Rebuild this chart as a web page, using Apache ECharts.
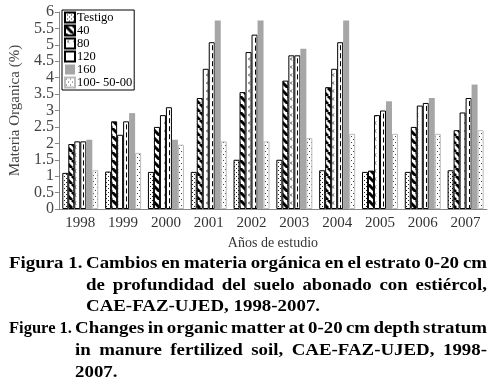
<!DOCTYPE html>
<html>
<head>
<meta charset="utf-8">
<script src="https://cdn.jsdelivr.net/npm/echarts/dist/echarts.min.js"></script>
<style>
  html, body { margin: 0; padding: 0; background: #fff; }
  #chart { width: 495px; height: 391px; }
</style>
</head>
<body>
<div id="chart"></div>
<script>
// datos
var years = ['1998', '1999', '2000', '2001', '2002', '2003', '2004', '2005', '2006', '2007'];
var testigo = [1.10, 1.14, 1.13, 1.13, 1.50, 1.50, 1.18, 1.13, 1.13, 1.18];
var d40 = [1.98, 2.67, 2.50, 3.38, 3.56, 3.91, 3.71, 1.17, 2.50, 2.40];
var d80 = [2.06, 2.26, 2.86, 4.27, 4.78, 4.68, 4.27, 2.86, 3.15, 2.94];
var d120 = [2.06, 2.67, 3.10, 5.08, 5.31, 4.68, 5.08, 3.00, 3.23, 3.38];
var d160 = [2.11, 2.92, 2.11, 5.74, 5.74, 4.88, 5.74, 3.28, 3.38, 3.79];
var d100 = [1.18, 1.71, 1.96, 2.06, 2.06, 2.16, 2.29, 2.29, 2.29, 2.40];
var legendNames = ['Testigo', '40', '80', '120', '160', '100- 50-00'];

var captionLines = [
  { lead: 'Figura 1.', text: 'Cambios en materia orgánica en el estrato 0-20 cm', justify: true },
  { lead: '', text: 'de profundidad del suelo abonado con estiércol,', justify: true },
  { lead: '', text: 'CAE-FAZ-UJED, 1998-2007.', justify: false },
  { lead: 'Figure 1.', text: 'Changes in organic matter at 0-20 cm depth stratum', justify: true },
  { lead: '', text: 'in manure fertilized soil, CAE-FAZ-UJED, 1998-', justify: true },
  { lead: '', text: '2007.', justify: false }
];

var serif = '"Liberation Serif", "Times New Roman", serif';

// tramas de relleno
function tile(w, h, draw) {
  var c = document.createElement('canvas');
  c.width = w; c.height = h;
  var g = c.getContext('2d');
  g.fillStyle = '#fff';
  g.fillRect(0, 0, w, h);
  draw(g);
  return { image: c, repeat: 'repeat' };
}
var patDots = tile(4, 4, function (g) {
  g.fillStyle = '#222';
  g.fillRect(0, 0, 1, 1);
  g.fillRect(2, 2, 1, 1);
});
var patStripe = tile(8, 8, function (g) {
  g.strokeStyle = '#000';
  g.lineWidth = 3;
  [-8, 0, 8].forEach(function (o) {
    g.beginPath(); g.moveTo(o, 0); g.lineTo(o + 8, 8); g.stroke();
  });
});
var patMarks = tile(6, 8, function (g) {
  g.strokeStyle = '#333';
  g.lineWidth = 1;
  g.beginPath(); g.moveTo(4, 1.5); g.lineTo(2.5, 3); g.lineTo(4, 4.5); g.stroke();
});
var patSparse = tile(4, 6, function (g) {
  g.fillStyle = '#444';
  g.fillRect(1, 1, 1, 1);
  g.fillRect(3, 4, 1, 1);
});

var myChart = echarts.init(document.getElementById('chart'));

// texto del pie de figura, justificado
var measure = document.createElement('canvas').getContext('2d');
var capFont = 'bold 16px ' + serif;
measure.font = capFont;
var SX = 1.18;
var capY = [264, 285.5, 307, 329, 351, 373];
var graphics = [];
captionLines.forEach(function (ln, k) {
  var x0 = k < 3 ? 86 : 75;
  var x1 = 487;
  if (ln.lead) {
    var lw = measure.measureText(ln.lead).width;
    var ls = Math.min(SX, (x0 - 12) / lw);
    graphics.push({ type: 'text', x: 9, y: capY[k], scaleX: ls,
      style: { text: ln.lead, font: capFont, fill: '#000', verticalAlign: 'middle' } });
  }
  var words = ln.text.split(' ');
  var ws = words.map(function (w) { return measure.measureText(w).width * SX; });
  var total = ws.reduce(function (a, b) { return a + b; }, 0);
  var gap = ln.justify ? (x1 - x0 - total) / (words.length - 1) : measure.measureText(' ').width * SX;
  var x = x0;
  words.forEach(function (w, i) {
    graphics.push({ type: 'text', x: x, y: capY[k], scaleX: SX,
      style: { text: w, font: capFont, fill: '#000', verticalAlign: 'middle' } });
    x += ws[i] + gap;
  });
});

function barSeries(name, data, color, border) {
  return {
    name: name,
    type: 'bar',
    data: data,
    barWidth: 6,
    barGap: 0,
    itemStyle: { color: color, borderColor: border, borderWidth: border ? 1 : 0 }
  };
}

myChart.setOption({
  animation: false,
  textStyle: { fontFamily: serif },
  grid: { left: 55, right: 8, top: 12, bottom: 182 },
  legend: {
    data: legendNames,
    orient: 'vertical',
    left: 62,
    top: 10,
    icon: 'rect',
    itemWidth: 10,
    itemHeight: 10,
    itemGap: 0,
    padding: [1, 2, 1, 2],
    borderColor: '#000',
    borderWidth: 1,
    textStyle: { fontFamily: serif, fontSize: 12.5, color: '#000', lineHeight: 12, padding: [0, 0, 0, -3] }
  },
  xAxis: {
    type: 'category',
    data: years,
    name: 'Años de estudio',
    nameLocation: 'middle',
    nameGap: 25,
    nameTextStyle: { fontFamily: serif, fontSize: 14, color: '#333' },
    axisLine: { lineStyle: { color: '#868686' } },
    axisTick: { length: 5, lineStyle: { color: '#868686' } },
    axisLabel: { fontFamily: serif, fontSize: 15, color: '#333', margin: 7 }
  },
  yAxis: {
    type: 'value',
    min: 0,
    max: 6,
    interval: 0.5,
    name: 'Materia Organica (%)',
    nameLocation: 'middle',
    nameGap: 33,
    nameTextStyle: { fontFamily: serif, fontSize: 15, color: '#444' },
    axisLine: { show: true, lineStyle: { color: '#868686' } },
    axisTick: { show: true, length: 4, lineStyle: { color: '#868686' } },
    axisLabel: { fontFamily: serif, fontSize: 16, color: '#444', margin: 5 },
    splitLine: { show: false }
  },
  graphic: graphics,
  series: [
    barSeries('Testigo', testigo, patDots, '#000'),
    barSeries('40', d40, patStripe, '#000'),
    barSeries('80', d80, patMarks, '#000'),
    barSeries('120', d120, '#fff', '#000'),
    barSeries('160', d160, '#a6a6a6', null),
    barSeries('100- 50-00', d100, patSparse, '#bbb'),
    {
      // linea discontinua central de las barras 120
      name: '120',
      type: 'custom',
      silent: true,
      z: 3,
      data: d120.map(function (v, i) { return [i, v]; }),
      encode: { x: 0, y: 1 },
      renderItem: function (params, api) {
        var top = api.coord([api.value(0), api.value(1)]);
        var base = api.coord([api.value(0), 0]);
        var x = Math.round(top[0] + 3) + 0.5;
        return {
          type: 'line',
          shape: { x1: x, y1: top[1] + 3, x2: x, y2: base[1] },
          style: { stroke: '#000', lineWidth: 1, lineDash: [5, 3] }
        };
      }
    }
  ]
});
</script>
</body>
</html>
